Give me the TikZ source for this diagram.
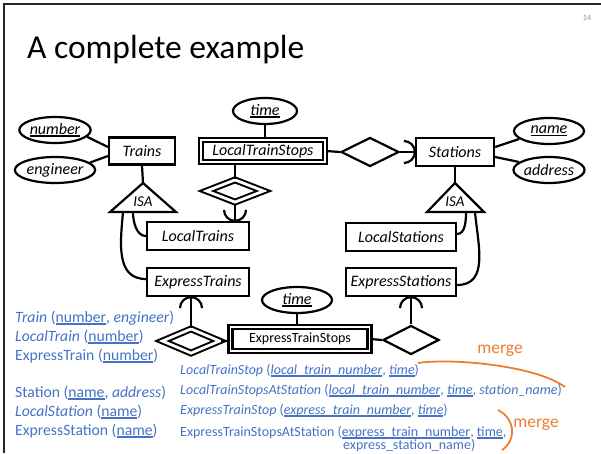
\documentclass[tikz,border=0pt]{standalone}
\usepackage{fontspec}
\setmainfont{Carlito}
\usetikzlibrary{shapes.geometric}
\definecolor{tblue}{HTML}{4472C4}
\definecolor{torange}{HTML}{ED7D31}
\newcommand\myul[1]{\setbox0\hbox{#1}\rlap{\rule[-2.8pt]{\wd0}{1.5pt}}\box0}
\begin{document}
\begin{tikzpicture}[x=1pt,y=1pt,
  lw/.style={line width=2.2pt},
  nf/.style={font=\fontsize{16}{18}\selectfont\itshape},
  ent/.style={draw, rectangle, line width=2.2pt, inner sep=0pt, nf},
  attr/.style={draw, ellipse, line width=2.2pt, inner sep=0pt, nf},
  wk/.style={draw, rectangle, double, double distance=1.8pt, line width=2.2pt, inner sep=0pt},
  rel/.style={draw, diamond, line width=2.2pt, inner sep=0pt},
  wrel/.style={draw, diamond, double, double distance=2.8pt, line width=2pt, inner sep=0pt},
  isat/.style={font=\fontsize{15}{17}\selectfont\itshape},
  bl/.style={anchor=base west, inner sep=0pt, text=tblue, font=\fontsize{15.7}{18}\selectfont},
  sl/.style={anchor=base west, inner sep=0pt, text=tblue, font=\fontsize{14}{16}\selectfont},
  mg/.style={inner sep=0pt, text=torange, font=\fontsize{17.5}{20}\selectfont},
  oc/.style={draw=torange, line width=1.8pt},
]
\useasboundingbox (0,0) rectangle (601,453);
% slide frame
\draw[line width=2pt, black!85] (4,0) -- (4,449) -- (601,449);
\node[inner sep=0pt, text=black!45, font=\fontsize{8}{9}\selectfont] (pg) at (587,435) {14};
\node[anchor=base west, inner sep=0pt, font=\fontsize{33.5}{38}\selectfont] (title) at (27,394) {A complete example};

% ---------- top row ----------
\node[attr, minimum width=68, minimum height=26] (number) at (55,323) {\myul{number}};
\node[attr, minimum width=68, minimum height=26] (engineer) at (55,283) {engineer};
\node[ent, minimum width=66, minimum height=27] (trains) at (142,302) {Trains};

\node[attr, minimum width=64, minimum height=26] (time1) at (265,342) {\myul{time}};
\node[wk, minimum width=124, minimum height=22, nf] (lts) at (263,302) {LocalTrainStops};
\node[rel, minimum width=58, minimum height=29] (rel1) at (370,301) {};
\node[ent, minimum width=78, minimum height=28] (stations) at (455,301) {Stations};
\node[attr, minimum width=70, minimum height=26] (name) at (549,322) {\myul{name}};
\node[attr, minimum width=70, minimum height=26] (address) at (549,283) {address};

\node[wrel, minimum width=58, minimum height=23] (dd1) at (235,262) {};

% ISA triangles
\coordinate (isa1a) at (143,270);
\coordinate (isa1l) at (110,241);
\coordinate (isa1r) at (176,241);
\draw[lw, line join=miter] (isa1a) -- (isa1l) -- (isa1r) -- cycle;
\node[isat] (isa1) at (143,251) {ISA};
\coordinate (isa2a) at (455,270);
\coordinate (isa2l) at (427,241);
\coordinate (isa2r) at (484,241);
\draw[lw, line join=miter] (isa2a) -- (isa2l) -- (isa2r) -- cycle;
\node[isat] (isa2) at (455,251) {ISA};

% ---------- subclasses ----------
\node[ent, minimum width=102, minimum height=28] (ltrain) at (198,217) {LocalTrains};
\node[ent, minimum width=102, minimum height=28] (etrain) at (198,171) {ExpressTrains};
\node[ent, minimum width=110, minimum height=28] (lstat) at (401,216) {LocalStations};
\node[ent, minimum width=110, minimum height=28] (estat) at (401,171) {ExpressStations};

% ---------- bottom row ----------
\node[attr, minimum width=70, minimum height=26] (time2) at (297,153) {\myul{time}};
\node[wk, minimum width=139, minimum height=24, font=\fontsize{14}{16}\selectfont] (ets) at (300,114) {ExpressTrainStops};
\node[wrel, minimum width=58, minimum height=25] (dd2) at (191,112) {};
\node[rel, minimum width=56, minimum height=29] (rel2) at (411,113) {};

% ---------- connectors ----------
\draw[lw] (number.-12) -- ([yshift=4]trains.west);
\draw[lw] (engineer.12) -- ([yshift=-5]trains.west);
\draw[lw] (trains.south) -- (isa1a);
\draw[lw] (time1.south) -- (time1.south |- lts.north);
\coordinate (q1) at (dd1.north |- lts.south);
\draw[lw] (q1) -- (dd1.north);
\coordinate (p1) at (dd1.south |- ltrain.north);
\draw[lw] (dd1.south) -- (p1);
\draw[lw] ([shift={(-11,11)}]p1) arc[start angle=180, end angle=360, radius=11];
\draw[lw] (lts.east) -- (rel1.west);
\draw[lw] (rel1.east) -- (stations.west);
\coordinate (p3) at (stations.west);
\draw[lw] ([shift={(-11,11)}]p3) arc[start angle=90, end angle=-90, radius=11];
\draw[lw] ([yshift=5]stations.east) -- (name.195);
\draw[lw] ([yshift=-5]stations.east) -- (address.165);
\draw[lw] (stations.south) -- (isa2a);

\coordinate (c1) at (133,241);
\coordinate (c2) at (123,241);
\draw[lw] (c1) to[out=-90, in=180, looseness=0.9] (ltrain.west);
\draw[lw] (c2) to[out=-95, in=180, looseness=1.1] ([yshift=3]etrain.west);
\coordinate (c3) at (466,241);
\coordinate (c4) at (475,241);
\draw[lw] (c3) to[out=-90, in=0, looseness=0.9] ([yshift=3]lstat.east);
\draw[lw] (c4) to[out=-85, in=0, looseness=1.1] ([yshift=-3]estat.east);

\coordinate (p2) at (dd2.north |- etrain.south);
\draw[lw] (dd2.north) -- (p2);
\draw[lw] ([shift={(-11,-11)}]p2) arc[start angle=180, end angle=0, radius=11];
\draw[lw] (dd2.east) -- (dd2.east -| ets.west);
\coordinate (q2) at (time2.south |- ets.north);
\draw[lw] (time2.south) -- (q2);
\draw[lw] (ets.east) -- (rel2.west);
\coordinate (p4) at (rel2.north |- estat.south);
\draw[lw] (rel2.north) -- (p4);
\draw[lw] ([shift={(-11,-11)}]p4) arc[start angle=180, end angle=0, radius=11];

% ---------- relations text ----------
\node[bl] (b1) at (15,131) {\textit{Train} (\myul{number}, \textit{engineer})};
\node[bl] (b2) at (15,112) {\textit{LocalTrain} (\myul{number})};
\node[bl] (b3) at (15,93) {ExpressTrain (\myul{number})};
\node[bl] (b4) at (15,56) {Station (\myul{name}, \textit{address})};
\node[bl] (b5) at (15,37) {\textit{LocalStation} (\myul{name})};
\node[bl] (b6) at (15,18) {ExpressStation (\myul{name})};

\node[sl] (s1) at (180,79) {\textit{LocalTrainStop} (\myul{\textit{local\_train\_number}}, \myul{\textit{time}})};
\node[sl] (s2) at (180,59) {\textit{LocalTrainStopsAtStation} (\myul{\textit{local\_train\_number}}, \myul{\textit{time}}, \textit{station\_name})};
\node[sl] (s3) at (180,39) {\textit{ExpressTrainStop} (\myul{\textit{express\_train\_number}}, \myul{\textit{time}})};
\node[sl] (s4) at (180,17) {ExpressTrainStopsAtStation (\myul{express\_train\_number}, \myul{time},};
\node[sl] (s5) at (343,4) {express\_station\_name)};

\node[mg] (m1) at (500,102) {merge};
\node[mg] (m2) at (536,28) {merge};
\draw[oc] (418,90) .. controls (450,95) and (535,88) .. (565,66);
\draw[oc] (498,43) .. controls (516,34) and (516,12) .. (502,3);
\end{tikzpicture}
\end{document}
